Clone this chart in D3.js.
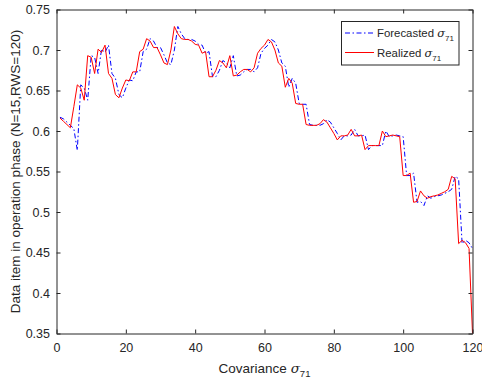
<!DOCTYPE html>
<html>
<head>
<meta charset="utf-8">
<script src="https://cdn.jsdelivr.net/npm/d3@7"></script>
<style>
	body{margin:0;background:#fff;}
	svg text{font-family:"Liberation Sans",Arial,Helvetica,sans-serif;fill:#262626;}
</style>
</head>
<body>
<svg id="chart" width="482" height="381"></svg>
<script>
'use strict'
// values, index 1..120
var realized = [
	0.616,0.612,0.608,0.604,0.630,0.657,0.653,0.638,0.693,0.691,
	0.671,0.701,0.697,0.706,0.671,0.665,0.645,0.641,0.653,0.663,
	0.662,0.673,0.673,0.698,0.701,0.714,0.711,0.703,0.703,0.694,
	0.684,0.682,0.700,0.729,0.720,0.714,0.713,0.713,0.711,0.707,
	0.706,0.696,0.698,0.667,0.667,0.675,0.687,0.684,0.678,0.693,
	0.668,0.669,0.673,0.676,0.676,0.673,0.678,0.696,0.702,0.706,
	0.713,0.710,0.700,0.684,0.680,0.654,0.665,0.659,0.634,0.633,
	0.633,0.608,0.607,0.607,0.607,0.609,0.614,0.611,0.604,0.597,
	0.589,0.594,0.594,0.595,0.602,0.594,0.594,0.595,0.577,0.582,
	0.582,0.582,0.582,0.600,0.593,0.594,0.595,0.594,0.593,0.545,
	0.545,0.548,0.512,0.513,0.526,0.520,0.517,0.519,0.520,0.521,
	0.523,0.525,0.528,0.544,0.541,0.461,0.465,0.462,0.455,0.350
];
var forecasted = [
	0.617,0.615,0.611,0.607,0.603,0.576,0.657,0.653,0.638,0.693,
	0.691,0.671,0.701,0.697,0.706,0.671,0.665,0.645,0.641,0.653,
	0.663,0.662,0.673,0.673,0.698,0.701,0.714,0.711,0.703,0.703,
	0.694,0.684,0.682,0.700,0.729,0.720,0.714,0.713,0.713,0.711,
	0.707,0.706,0.696,0.698,0.667,0.667,0.675,0.687,0.684,0.678,
	0.693,0.668,0.669,0.673,0.676,0.676,0.673,0.678,0.696,0.702,
	0.706,0.713,0.710,0.700,0.684,0.680,0.654,0.665,0.659,0.634,
	0.633,0.633,0.608,0.607,0.607,0.607,0.609,0.614,0.611,0.604,
	0.597,0.589,0.594,0.594,0.595,0.602,0.594,0.594,0.595,0.577,
	0.582,0.582,0.582,0.582,0.600,0.593,0.594,0.595,0.594,0.593,
	0.545,0.545,0.548,0.512,0.513,0.508,0.520,0.517,0.519,0.520,
	0.521,0.523,0.525,0.528,0.544,0.541,0.461,0.465,0.462,0.455
];
var xTicks = [0,20,40,60,80,100,120];
var yTicks = [0.35,0.4,0.45,0.5,0.55,0.6,0.65,0.7,0.75];
var seriesNames = ['Forecasted','Realized'];

var svg = d3.select('#chart');
var plot = {left: 56.5, right: 472.5, top: 9.5, bottom: 333.5};
var x = d3.scaleLinear().domain([0,120]).range([plot.left,plot.right]);
var y = d3.scaleLinear().domain([0.35,0.75]).range([plot.bottom,plot.top]);
var axisColor = '#262626';

// lines
var line = d3.line()
	.x(function(d,i){ return x(i+1); })
	.y(function(d){ return y(d); });

svg.append('path').datum(forecasted)
	.attr('d', line).attr('fill','none')
	.attr('stroke','#0000ff').attr('stroke-width',1)
	.attr('stroke-dasharray','5,2.5,1.5,2.5');
svg.append('path').datum(realized)
	.attr('d', line).attr('fill','none')
	.attr('stroke','#ff0000').attr('stroke-width',1);

// axes
function styleAxis(g){
	g.selectAll('path,line').attr('stroke',axisColor).attr('stroke-width',1);
	g.selectAll('text').attr('fill',axisColor).style('font-size','12.5px');
}
svg.append('g').attr('transform','translate(0,'+plot.bottom+')')
	.call(d3.axisBottom(x).tickValues(xTicks).tickSizeInner(-4).tickSizeOuter(0).tickPadding(10))
	.call(styleAxis);
svg.append('g').attr('transform','translate(0,'+plot.top+')')
	.call(d3.axisTop(x).tickValues(xTicks).tickSizeInner(-4).tickSizeOuter(0).tickFormat(''))
	.call(styleAxis);
svg.append('g').attr('transform','translate('+plot.left+',0)')
	.call(d3.axisLeft(y).tickValues(yTicks).tickSizeInner(-4).tickSizeOuter(0).tickPadding(6.5)
		.tickFormat(function(d){ return String(+d.toFixed(2)); }))
	.call(styleAxis);
svg.append('g').attr('transform','translate('+plot.right+',0)')
	.call(d3.axisRight(y).tickValues(yTicks).tickSizeInner(-4).tickSizeOuter(0).tickFormat(''))
	.call(styleAxis);
svg.selectAll('.domain').attr('fill','none');

// axis labels
var xl = svg.append('text').attr('x',(plot.left+plot.right)/2).attr('y',372.5)
	.attr('text-anchor','middle').style('font-size','13.5px');
xl.append('tspan').text('Covariance ');
xl.append('tspan').text('σ').style('font-style','italic').style('font-family','"DejaVu Serif",serif');
xl.append('tspan').text('71').attr('dy',4).style('font-size','9.5px');

svg.append('text')
	.attr('transform','translate(19.5,'+((plot.top+plot.bottom)/2)+') rotate(-90)')
	.attr('text-anchor','middle').style('font-size','13.5px')
	.text('Data item in operation phase (N=15,RWS=120)');

// legend
var lg = svg.append('g');
lg.append('rect').attr('x',341.5).attr('y',21.5).attr('width',117.5).attr('height',43.5)
	.attr('fill','#fff').attr('stroke',axisColor).attr('stroke-width',1);
var styles = [{c:'#0000ff',dash:'5,2.5,1.5,2.5'},{c:'#ff0000',dash:null}];
seriesNames.forEach(function(name,i){
	var cy = 33 + i*19.5;
	lg.append('line').attr('x1',345).attr('x2',374).attr('y1',cy).attr('y2',cy)
		.attr('stroke',styles[i].c).attr('stroke-width',1)
		.attr('stroke-dasharray',styles[i].dash);
	var t = lg.append('text').attr('x',377).attr('y',cy+4).style('font-size','11.4px');
	t.append('tspan').text(name+' ');
	t.append('tspan').text('σ').style('font-style','italic').style('font-family','"DejaVu Serif",serif');
	t.append('tspan').text('71').attr('dy',4).style('font-size','8px');
});
</script>
</body>
</html>
